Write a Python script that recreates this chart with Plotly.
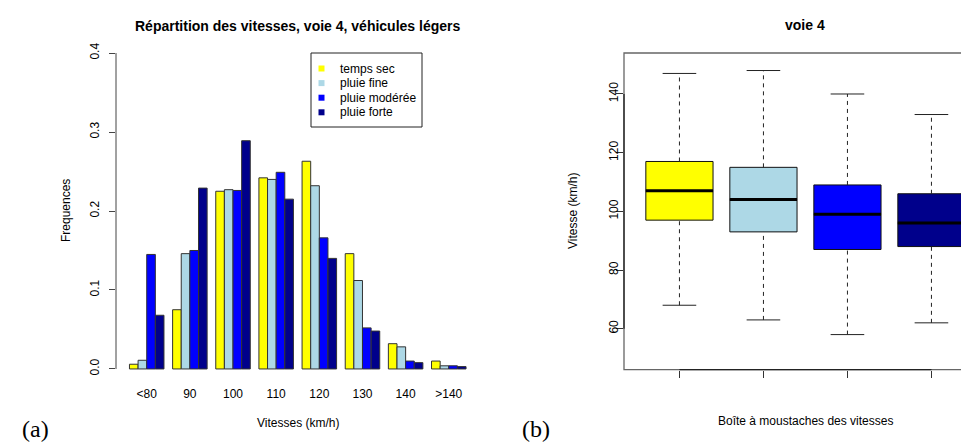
import plotly.graph_objects as go

W, H = 969, 446

# ---- Data: histogram of speeds (left) ----
categories = ["<80", "90", "100", "110", "120", "130", "140", ">140"]
series_names = ["temps sec", "pluie fine", "pluie modérée", "pluie forte"]
temps_sec = [0.006, 0.075, 0.225, 0.242, 0.263, 0.146, 0.032, 0.010]
pluie_fine = [0.011, 0.146, 0.227, 0.240, 0.232, 0.112, 0.028, 0.004]
pluie_moderee = [0.145, 0.150, 0.226, 0.249, 0.166, 0.052, 0.010, 0.004]
pluie_forte = [0.068, 0.229, 0.289, 0.215, 0.140, 0.048, 0.008, 0.003]
freq_ticks = [0.0, 0.1, 0.2, 0.3, 0.4]

# ---- Data: boxplot stats (right) ----
box_positions = [1, 2, 3, 4]
whisker_low = [68, 63, 58, 62]
q1 = [97, 93, 87, 88]
median = [107, 104, 99, 96]
q3 = [117, 115, 109, 106]
whisker_high = [147, 148, 140, 133]
speed_ticks = [60, 80, 100, 120, 140]

colors = ["#FFFF00", "#ADD8E6", "#0000FF", "#00008B"]
FONT = "Liberation Sans, Arial, sans-serif"
SERIF = "Liberation Serif, Times New Roman, serif"

def px_x(p):
    return p / W

def px_y(p):
    return 1 - p / H

fig = go.Figure()

# Left: grouped bars
for name, vals, col in zip(series_names, [temps_sec, pluie_fine, pluie_moderee, pluie_forte], colors):
    fig.add_trace(go.Bar(x=categories, y=vals, name=name,
                         marker=dict(color=col, line=dict(color="#333333", width=1)),
                         showlegend=False, xaxis="x", yaxis="y"))

# Right: boxplots
bw = 0.8
for i, (pos, col) in enumerate(zip(box_positions, colors)):
    # dashed whiskers
    fig.add_trace(go.Scatter(x=[pos, pos, None, pos, pos], y=[whisker_low[i], q1[i], None, q3[i], whisker_high[i]],
                             mode="lines", line=dict(color="#222222", width=1, dash="4px,4px"),
                             showlegend=False, xaxis="x2", yaxis="y2", hoverinfo="skip"))
    # whisker caps
    fig.add_trace(go.Scatter(x=[pos - bw / 4, pos + bw / 4, None, pos - bw / 4, pos + bw / 4],
                             y=[whisker_low[i], whisker_low[i], None, whisker_high[i], whisker_high[i]],
                             mode="lines", line=dict(color="#222222", width=1),
                             showlegend=False, xaxis="x2", yaxis="y2", hoverinfo="skip"))
    # box
    fig.add_trace(go.Box(x=[pos], q1=[q1[i]], median=[median[i]], q3=[q3[i]],
                         lowerfence=[q1[i]], upperfence=[q3[i]], width=bw, whiskerwidth=0,
                         fillcolor=col, line=dict(color="#111111", width=1),
                         showlegend=False, xaxis="x2", yaxis="y2", boxpoints=False))
    # thick median
    fig.add_trace(go.Scatter(x=[pos - bw / 2, pos + bw / 2], y=[median[i], median[i]], mode="lines",
                             line=dict(color="#000000", width=3), showlegend=False,
                             xaxis="x2", yaxis="y2", hoverinfo="skip"))

# geometry (pixels)
L_left, L_right, L_top, L_bot = 108, 471.5, 32.4, 373.6
R_left, R_top, R_bot = 616, 45, 361.7

fig.update_layout(
    width=W, height=H, autosize=False,
    margin=dict(l=0, r=0, t=0, b=0),
    paper_bgcolor="white", plot_bgcolor="white",
    font=dict(family=FONT, size=12, color="#000000"),
    barmode="group", bargap=0.2, bargroupgap=0,
    showlegend=False,
    xaxis=dict(domain=[px_x(L_left), px_x(L_right)], range=[-0.712, 7.712], type="category",
               showgrid=False, zeroline=False, showline=False, ticks="",
               tickfont=dict(size=12), anchor="y", ticklabelstandoff=3),
    yaxis=dict(domain=[px_y(L_bot), px_y(L_top)], range=[-0.016, 0.416], tickvals=freq_ticks,
               ticktext=["%.1f" % v for v in freq_ticks], tickangle=-90,
               showgrid=False, zeroline=False, showline=False, ticks="outside", ticklen=6,
               tickcolor="#444444", tickfont=dict(size=12), anchor="x", ticklabelstandoff=5),
    xaxis2=dict(domain=[px_x(R_left), 1.0], range=[0.34, 0.34 + (W - R_left) / 84.0],
                tickvals=box_positions, ticktext=["" for _ in box_positions],
                showgrid=False, zeroline=False, showline=False, ticks="outside", ticklen=7,
                tickcolor="#333333", anchor="y2"),
    yaxis2=dict(domain=[px_y(R_bot), px_y(R_top)], range=[46.03, 153.97], tickvals=speed_ticks,
                tickangle=-90, showgrid=False, zeroline=False, showline=False,
                ticks="outside", ticklen=7, tickcolor="#333333", tickfont=dict(size=12),
                anchor="x2", ticklabelstandoff=-7),
)

shapes = []
# left y axis line from 0 to 0.4
shapes.append(dict(type="line", xref="x domain", yref="y", x0=0, x1=0, y0=freq_ticks[0], y1=freq_ticks[-1],
                   line=dict(color="#444444", width=1)))
# right frame (left, top, bottom); right side is cropped off the page
shapes.append(dict(type="rect", xref="paper", yref="paper", x0=px_x(R_left), x1=px_x(R_left + 365),
                   y0=px_y(R_bot), y1=px_y(R_top), line=dict(color="#666666", width=1.3)))
# axis lines over frame
shapes.append(dict(type="line", xref="x2", yref="y2 domain", x0=box_positions[0], x1=box_positions[-1], y0=0, y1=0,
                   line=dict(color="#222222", width=1.3)))
shapes.append(dict(type="line", xref="x2 domain", yref="y2", x0=0, x1=0, y0=speed_ticks[0], y1=speed_ticks[-1],
                   line=dict(color="#222222", width=1.3)))

# legend (R-style box with small squares)
LG_left, LG_right, LG_top, LG_bot = 303, 414, 45, 119
LG_row0, LG_step = 60.5, 14.6
shapes.append(dict(type="rect", xref="paper", yref="paper", x0=px_x(LG_left), x1=px_x(LG_right),
                   y0=px_y(LG_bot), y1=px_y(LG_top), line=dict(color="#222222", width=1), fillcolor="white"))
ann = []
for k, (name, col) in enumerate(zip(series_names, colors)):
    cy = LG_row0 + k * LG_step
    shapes.append(dict(type="rect", xref="paper", yref="paper", x0=px_x(310.5), x1=px_x(316.5),
                       y0=px_y(cy + 3), y1=px_y(cy - 3), line=dict(width=0), fillcolor=col))
    ann.append(dict(text=name, x=px_x(330), y=px_y(cy), xref="paper", yref="paper", showarrow=False,
                    font=dict(size=12), xanchor="left", yanchor="middle"))
fig.update_layout(shapes=shapes)

ann.append(dict(text="<b>Répartition des vitesses, voie 4, véhicules légers</b>", x=px_x((L_left + L_right) / 2),
                y=px_y(18), xref="paper", yref="paper", showarrow=False, font=dict(size=14),
                xanchor="center", yanchor="middle"))
ann.append(dict(text="<b>voie 4</b>", x=px_x(797), y=px_y(17), xref="paper", yref="paper", showarrow=False,
                font=dict(size=14), xanchor="center", yanchor="middle"))
ann.append(dict(text="Frequences", x=px_x(58), y=px_y(203), xref="paper", yref="paper", showarrow=False,
                textangle=-90, font=dict(size=12), xanchor="center", yanchor="middle"))
ann.append(dict(text="Vitesse (km/h)", x=px_x(565), y=px_y(203), xref="paper", yref="paper", showarrow=False,
                textangle=-90, font=dict(size=12), xanchor="center", yanchor="middle"))
ann.append(dict(text="Vitesses (km/h)", x=px_x(290), y=px_y(415), xref="paper", yref="paper", showarrow=False,
                font=dict(size=12), xanchor="center", yanchor="middle"))
ann.append(dict(text="Boîte à moustaches des vitesses", x=px_x(797), y=px_y(413), xref="paper", yref="paper",
                showarrow=False, font=dict(size=12), xanchor="center", yanchor="middle"))
ann.append(dict(text="(a)", x=px_x(27), y=px_y(421), xref="paper", yref="paper", showarrow=False, borderpad=0,
                font=dict(size=24, family=SERIF), xanchor="center", yanchor="middle"))
ann.append(dict(text="(b)", x=px_x(528), y=px_y(421), xref="paper", yref="paper", showarrow=False, borderpad=0,
                font=dict(size=24, family=SERIF), xanchor="center", yanchor="middle"))
fig.update_layout(annotations=ann)

fig.write_html("out.html")
